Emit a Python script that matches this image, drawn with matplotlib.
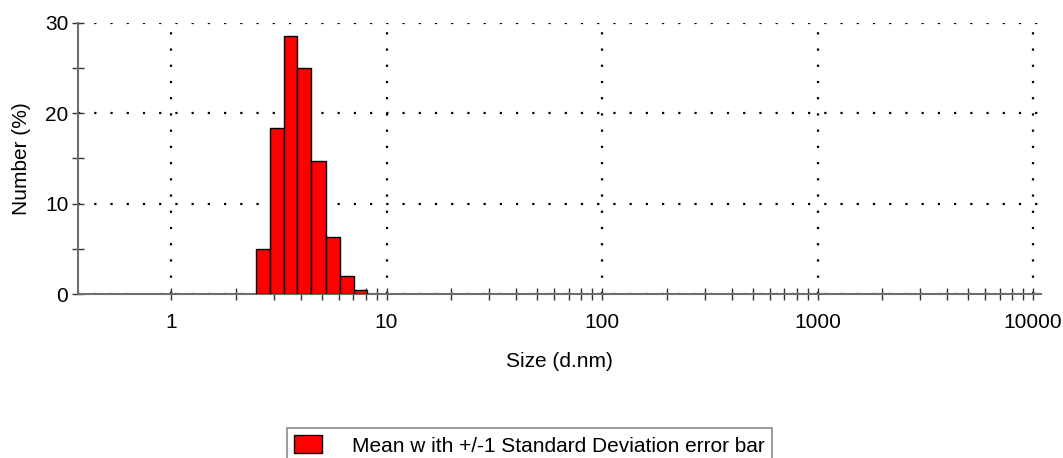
#!/usr/bin/env python3

import matplotlib as mpl
mpl.use("Agg")
import matplotlib.pyplot as plt
from matplotlib.patches import Patch
from matplotlib.ticker import FixedLocator, NullFormatter

# size bins (d.nm), left/right edges
bin_left = [2.48, 2.87, 3.34, 3.86, 4.45, 5.26, 6.10, 7.07]
bin_right = [2.87, 3.34, 3.86, 4.45, 5.26, 6.10, 7.07, 8.15]
number_pct = [5.0, 18.4, 28.5, 25.0, 14.7, 6.3, 2.0, 0.4]

x_major = [1, 10, 100, 1000, 10000]
x_labels = ["1", "10", "100", "1000", "10000"]
y_major = [0, 10, 20, 30]
y_minor = [5, 15, 25]

FS = 15

plt.rcParams["font.family"] = ["Liberation Sans", "DejaVu Sans"]

fig = plt.figure(figsize=(10.63, 4.58), dpi=100)
ax = fig.add_axes([0.0734, 0.358, 0.9059, 0.5925])

widths = [r - l for l, r in zip(bin_left, bin_right)]
ax.bar(bin_left, number_pct, width=widths, align="edge",
       color="#ff0000", edgecolor="black", linewidth=1.0, zorder=3)

ax.set_xscale("log")
ax.set_xlim(0.37, 10890)
ax.set_ylim(0, 30)

minor = [m * d for d in (1, 10, 100, 1000) for m in range(2, 10)]
ax.xaxis.set_major_locator(FixedLocator(x_major))
ax.xaxis.set_minor_locator(FixedLocator(minor))
ax.xaxis.set_minor_formatter(NullFormatter())
ax.set_xticklabels(x_labels)
ax.yaxis.set_major_locator(FixedLocator(y_major))
ax.yaxis.set_minor_locator(FixedLocator(y_minor))

ax.tick_params(axis="both", which="both", direction="inout", length=8,
               width=1.0, color="#333333", labelsize=FS)
ax.tick_params(axis="x", which="major", pad=10)
ax.tick_params(axis="y", which="major", pad=3)

for side in ("top", "right"):
    ax.spines[side].set_visible(False)
for side in ("left", "bottom"):
    ax.spines[side].set_color("#6e6e6e")
    ax.spines[side].set_linewidth(1.5)

ax.grid(True, which="major", color="black", linestyle=(0, (1, 6.3)),
        linewidth=1.6, zorder=1)
ax.set_axisbelow(True)

ax.set_xlabel("Size (d.nm)", fontsize=FS, labelpad=14)
ax.set_ylabel("Number (%)", fontsize=FS, labelpad=10)

# legend sits at the bottom edge, its frame runs off the figure
handle = Patch(facecolor="#ff0000", edgecolor="black", linewidth=1.0)
leg = fig.legend([handle], ["Mean w ith +/-1 Standard Deviation error bar"],
                 loc="upper left", bbox_to_anchor=(287 / 1063, 1 - 428 / 458),
                 borderaxespad=0, fontsize=FS, fancybox=False,
                 handlelength=1.35, handleheight=0.96, handletextpad=1.4,
                 borderpad=0.35)
leg.get_frame().set_edgecolor("#6e6e6e")
leg.get_frame().set_linewidth(1.2)

fig.savefig("out.png", dpi=100)
